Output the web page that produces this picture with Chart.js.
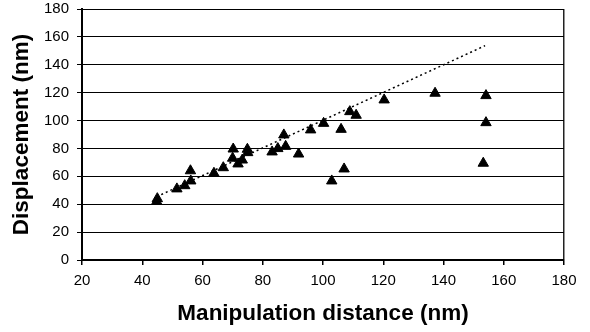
<!DOCTYPE html>
<html>
<head>
<meta charset="utf-8">
<script src="https://cdn.jsdelivr.net/npm/chart.js@4/dist/chart.umd.min.js"></script>
<style>
html,body{margin:0;padding:0;background:#fff;}
#wrap{width:590px;height:332px;}
</style>
</head>
<body>
<div id="wrap"><canvas id="c" width="590" height="332"></canvas></div>
<script>
const distX = [44.8,45,51.5,54.1,56.1,56,63.8,66.9,70,70.2,71.8,73.2,74.9,75,83.1,85,87,87.6,91.9,95.9,100.2,106,102.9,107,108.9,111,120.3,137.2,154.1,154.1,153.2];
const dispY = [42,44,51,53.3,56.7,64,62.2,66.2,73,79.6,68.9,71.7,79.4,77,77.5,79.9,89.7,81.5,76,93.3,98,93.7,56.7,65.3,106.4,103.8,114.8,119.6,117.9,98.5,69.4];
const trendX = [44.8,153.8];
const trendY = [45.4,153.7];
const xTitle = 'Manipulation distance (nm)';
const yTitle = 'Displacement (nm)';

const pts = distX.map((x,i)=>({x:x,y:dispY[i]}));
const trend = trendX.map((x,i)=>({x:x,y:trendY[i]}));
const FONT = "'Liberation Sans', Arial, sans-serif";

new Chart(document.getElementById('c'), {
  type: 'scatter',
  data: {
    datasets: [
      {
        type: 'line',
        data: trend,
        borderColor: '#000',
        borderWidth: 1.5,
        borderDash: [2,3],
        pointRadius: 0,
        fill: false,
        order: 2
      },
      {
        data: pts,
        pointStyle: 'triangle',
        pointRadius: 6,
        backgroundColor: '#000',
        borderColor: '#000',
        borderWidth: 1,
        order: 1
      }
    ]
  },
  options: {
    responsive: false,
    animation: false,
    layout: { padding: { left: 0, right: 26, top: 9, bottom: 0 } },
    plugins: { legend: { display: false }, tooltip: { enabled: false } },
    scales: {
      x: {
        type: 'linear',
        min: 20, max: 180,
        ticks: { stepSize: 20, color: '#000', font: { family: FONT, size: 15 }, padding: 7, maxRotation: 0 },
        grid: {
          drawOnChartArea: true,
          color: ctx => (ctx.tick && ctx.tick.value === 180) ? '#222' : 'rgba(0,0,0,0)',
          tickColor: '#000',
          tickLength: 5,
          lineWidth: 1.5
        },
        border: { color: '#000', width: 2 },
        title: { display: true, text: xTitle, color: '#000', font: { family: FONT, size: 22.5, weight: 'bold' }, padding: { top: 0, bottom: 4.5 } },
        afterFit: s => { s.height = 72; s.paddingLeft = 0; s.paddingRight = 0; }
      },
      y: {
        type: 'linear',
        min: 0, max: 180,
        ticks: { stepSize: 20, color: '#000', font: { family: FONT, size: 15 }, padding: 8 },
        grid: { color: '#000', tickColor: '#000', tickLength: 5, lineWidth: 1 },
        border: { color: '#000', width: 2 },
        title: { display: true, text: yTitle, color: '#000', font: { family: FONT, size: 22.5, weight: 'bold' }, padding: { top: 8.5, bottom: 0 } },
        afterFit: s => { s.width = 82; s.paddingTop = 0; s.paddingBottom = 0; }
      }
    }
  }
});
</script>
</body>
</html>
